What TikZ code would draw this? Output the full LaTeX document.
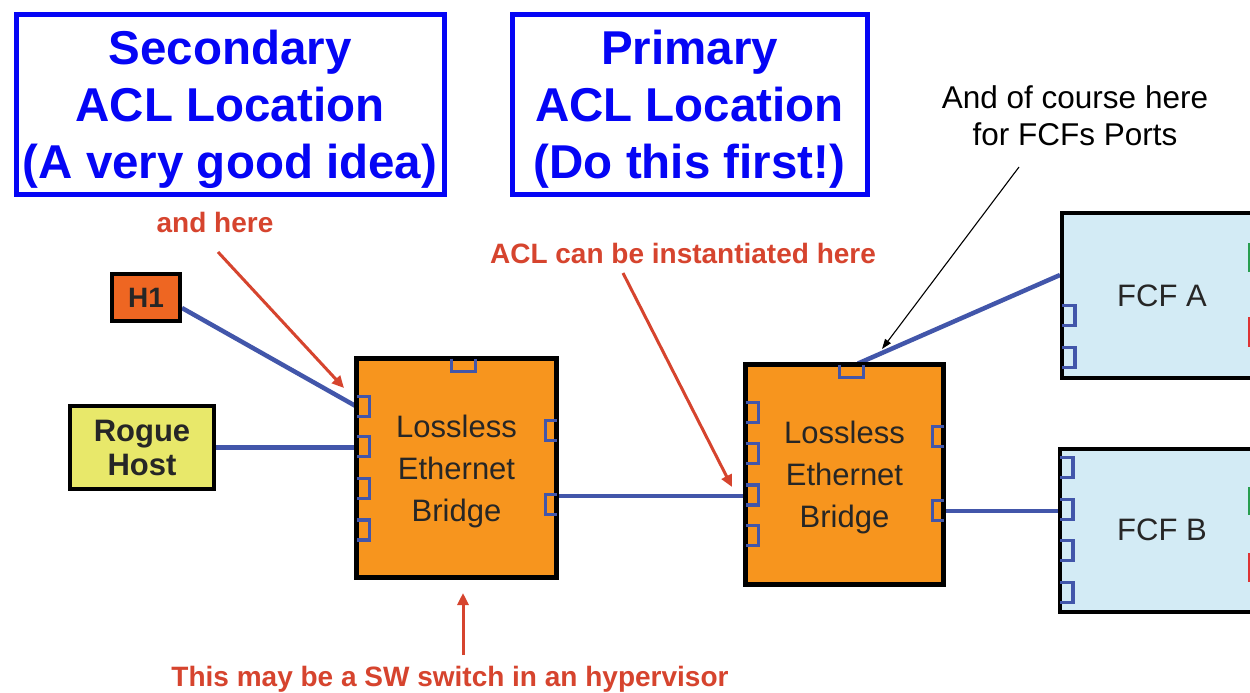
\documentclass[tikz,border=0pt]{standalone}
\usepackage{fontspec}
\setmainfont{Liberation Sans}
\usetikzlibrary{arrows.meta,backgrounds}
\definecolor{titleblue}{RGB}{5,5,245}
\definecolor{annred}{RGB}{214,68,46}
\definecolor{linkblue}{RGB}{66,86,170}
\definecolor{bridgeorange}{RGB}{247,149,30}
\definecolor{hostorange}{RGB}{238,102,34}
\definecolor{rogueyellow}{RGB}{232,232,106}
\definecolor{fcfblue}{RGB}{211,235,245}
\definecolor{boxtext}{RGB}{38,38,38}
\definecolor{markgreen}{RGB}{40,158,80}
\definecolor{markred}{RGB}{222,52,52}
\begin{document}
\begin{tikzpicture}[x=1pt,y=-1pt,
  titlebox/.style={draw=titleblue, line width=5pt, text=titleblue, inner sep=0pt,
    font=\fontsize{47.5}{57}\selectfont\bfseries, align=center, text depth=0pt},
  hostbox/.style={draw=black, line width=4pt, inner sep=0pt, text=boxtext,
    font=\fontsize{31}{34}\selectfont\bfseries, align=center, text depth=0pt},
  bridgebox/.style={draw=black, line width=5pt, fill=bridgeorange, inner sep=0pt, text=boxtext,
    font=\fontsize{31}{42}\selectfont, align=center, text depth=0pt},
  fcfbox/.style={draw=black, line width=4pt, fill=fcfblue, inner sep=0pt, text=boxtext,
    font=\fontsize{31}{37}\selectfont},
  redlabel/.style={text=annred, font=\fontsize{28}{32}\selectfont\bfseries, inner sep=0pt, anchor=base},
  blacklabel/.style={text=black, font=\fontsize{31.5}{37}\selectfont, inner sep=0pt, align=center, text depth=0pt},
  redarrow/.style={draw=annred, line width=3pt, -{Triangle[length=12pt,width=11pt]}},
  blackarrow/.style={draw=black, line width=1.1pt, -{Triangle[length=10pt,width=7pt]}},
  link/.style={draw=linkblue, line width=4.5pt},
  port/.style={draw=linkblue, line width=3.5pt},
  lport/.pic={\draw[port] (0,-10) -- (13,-10) -- (13,10) -- (0,10);},
  rport/.pic={\draw[port] (0,-10) -- (-11,-10) -- (-11,10) -- (0,10);},
  tport/.pic={\draw[port] (-12,0) -- (-12,13) -- (12,13) -- (12,0);},
]
\useasboundingbox (0,0) rectangle (1250,693);
\clip (0,0) rectangle (1250,693);
\begin{pgfonlayer}{background}
  \fill[white] (0,0) rectangle (1250,693);
\end{pgfonlayer}

% title boxes
\node[titlebox, minimum width=428, minimum height=179] (sec) at (230,104.5)
  {Secondary\\ACL Location\\(A very good idea)};
\node[titlebox, minimum width=355, minimum height=179] (pri) at (689.5,104.5)
  {Primary\\ACL Location\\(Do this first!)};

% annotation texts
\node[blacklabel] (course) at (1075,116) {And of course here\\for FCFs Ports};
\node[redlabel] (andhere) at (215,232) {and here};
\node[redlabel] (aclhere) at (683,263) {ACL can be instantiated here};
\node[redlabel] (hyper) at (450,686) {This may be a SW switch in an hypervisor};

% devices
\node[hostbox, fill=hostorange, minimum width=68, minimum height=47,
      font=\fontsize{28}{32}\selectfont\bfseries] (h1) at (146,297.5) {H1};
\node[hostbox, fill=rogueyellow, minimum width=144, minimum height=83] (rogue) at (142,447.5) {Rogue\\Host};
\node[bridgebox, minimum width=200, minimum height=219] (br1) at (456.5,468) {Lossless\\Ethernet\\Bridge};
\node[bridgebox, minimum width=198, minimum height=220] (br2) at (844.5,474.5) {Lossless\\Ethernet\\Bridge};
\node[fcfbox, minimum width=200, minimum height=165] (fcfA) at (1162,295.5) {FCF A};
\node[fcfbox, minimum width=204, minimum height=163] (fcfB) at (1162,530) {FCF B};

% port attachment points
\coordinate (b1l1) at (356.5,406.5);
\coordinate (b1r2) at (556.5,496);
\coordinate (b2l3) at (745.5,496);
\coordinate (b2r2) at (943.5,511);
\coordinate (b2t) at (858,363.5);

% links
\begin{pgfonlayer}{background}
  \draw[link] ([yshift=-10.5pt]h1.east) -- (b1l1);
  \draw[link] (rogue.east) -- (rogue.east -| br1.west);
  \draw[link] (b1r2) -- (b2l3);
  \draw[link] (b2r2) -- (b2r2 -| fcfB.west);
  \draw[link] (b2t) -- ([yshift=20.5pt]fcfA.west);
\end{pgfonlayer}

% ports of bridge 1
\pic at (356.5,406.5) {lport};
\pic at (356.5,446.5) {lport};
\pic at (356.5,488.5) {lport};
\pic at (356.5,530) {lport};
\pic at (463.5,358.5) {tport};
\pic at (556.5,430.5) {rport};
\pic at (556.5,504.5) {rport};
% ports of bridge 2
\pic at (745.5,412.5) {lport};
\pic at (745.5,453.5) {lport};
\pic at (745.5,495) {lport};
\pic at (745.5,535.5) {lport};
\pic at (851.5,364.5) {tport};
\pic at (943.5,436.5) {rport};
\pic at (943.5,510.5) {rport};
% ports of FCFs
\pic at (1062,315.5) {lport};
\pic at (1062,357.5) {lport};
\pic at (1060,467.5) {lport};
\pic at (1060,509.5) {lport};
\pic at (1060,550.5) {lport};
\pic at (1060,592.5) {lport};
\fill[markgreen] (1248,243) rectangle (1258,272);
\fill[markred] (1248,317) rectangle (1258,347);
\fill[markgreen] (1248,487) rectangle (1258,515);
\fill[markred] (1248,553) rectangle (1258,582);

% annotation arrows
\coordinate (a1tail) at (218,252);
\coordinate (a1tip) at (344,388);
\coordinate (a2tail) at (623,273);
\coordinate (a2tip) at (732,487);
\coordinate (a3tail) at (463,655);
\coordinate (a3tip) at (463,593);
\coordinate (a4tail) at (1019,167);
\coordinate (a4tip) at (882,349);
\draw[redarrow] (a1tail) -- (a1tip);
\draw[redarrow] (a2tail) -- (a2tip);
\draw[redarrow] (a3tail) -- (a3tip);
\draw[blackarrow] (a4tail) -- (a4tip);
\end{tikzpicture}
\end{document}
